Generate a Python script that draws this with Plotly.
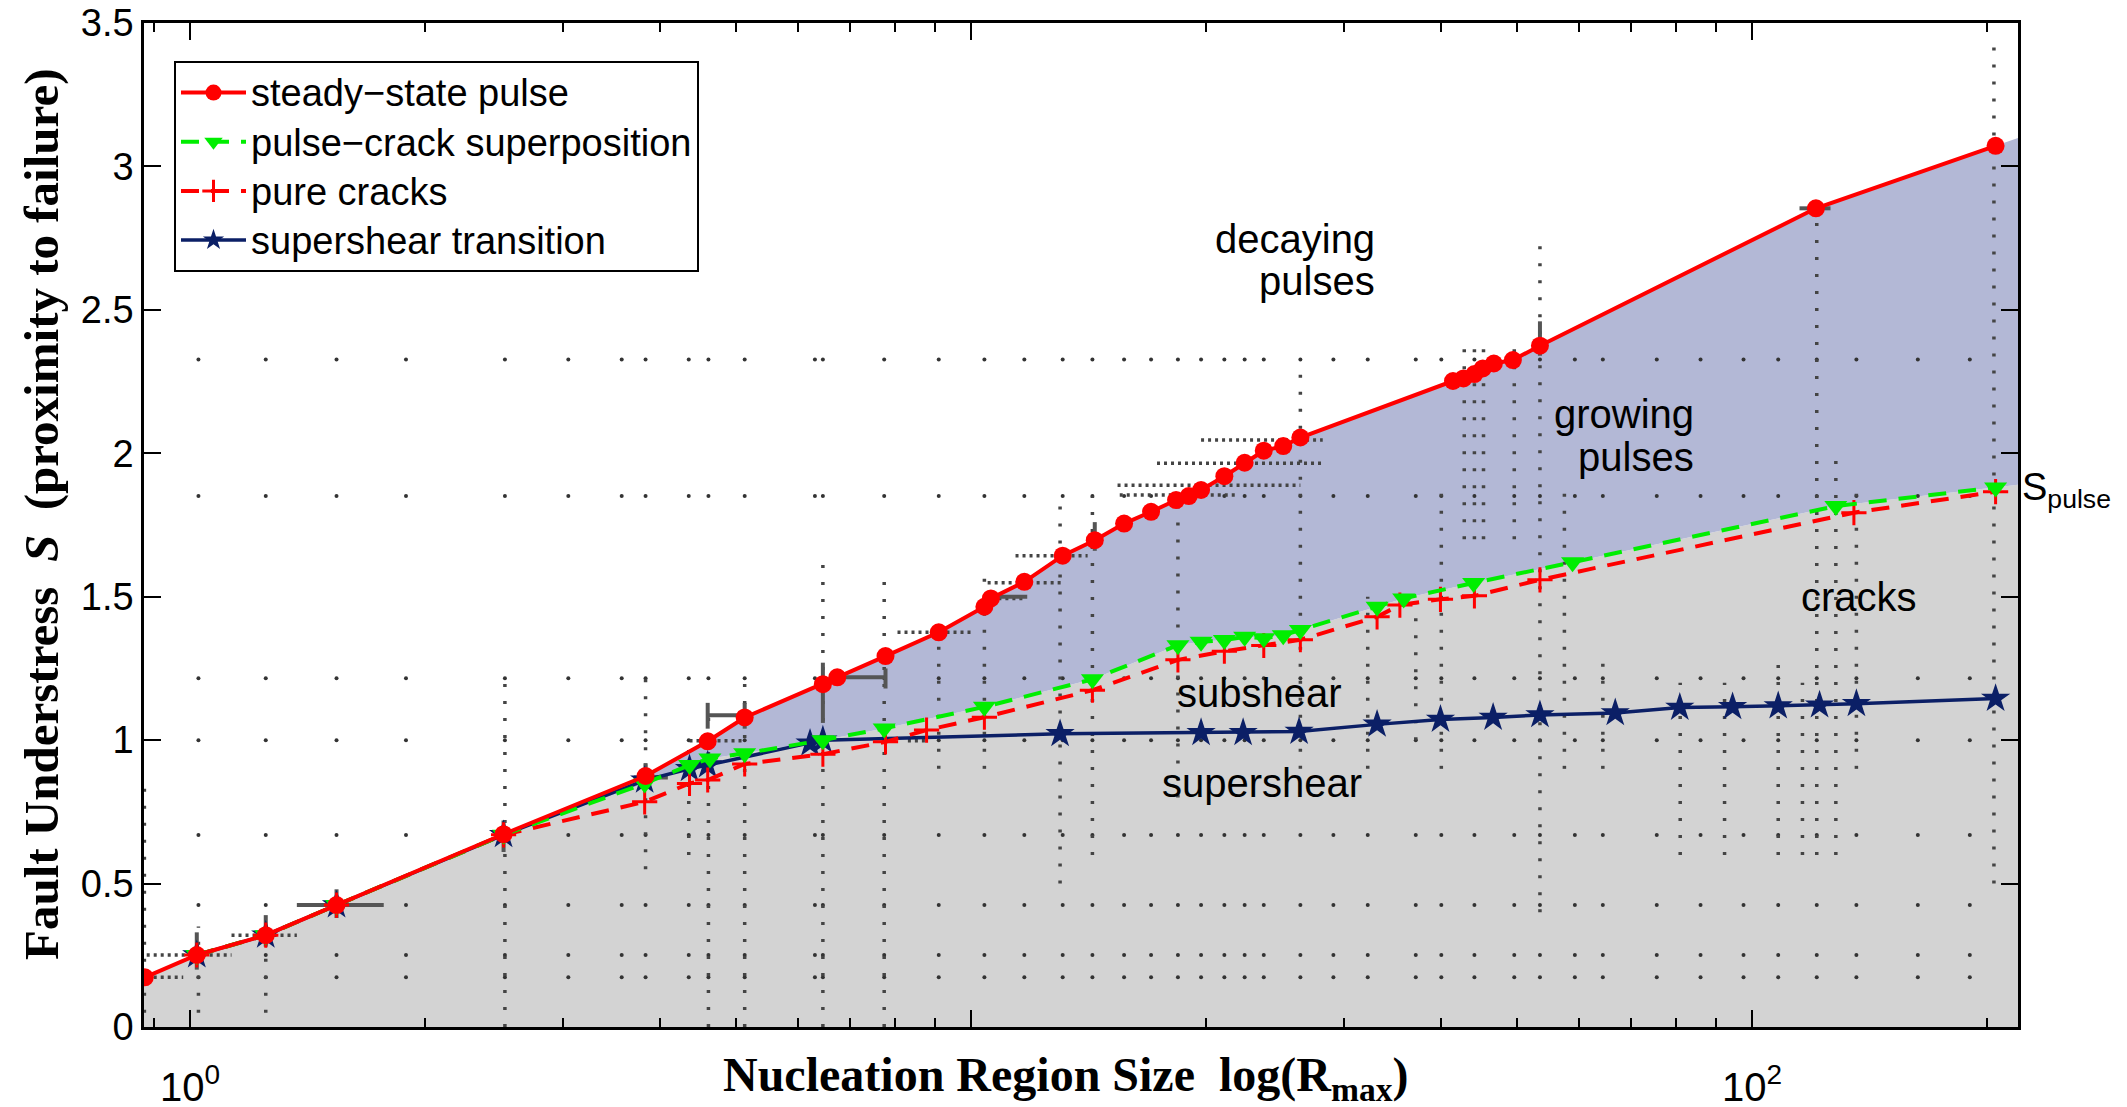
import numpy as np
import plotly.graph_objects as go

# ---- rupture-mode boundaries (R_max, S) ----
pulse_r = [0.875, 1.02, 1.25, 1.54, 2.52, 3.83, 4.60, 5.13, 6.46, 6.74, 7.77, 9.09, 10.4, 10.6,
           11.7, 13.1, 14.4, 15.7, 17.0, 18.3, 19.0, 19.7, 21.1, 22.4, 23.7, 25.1, 26.4,
           41.4, 42.7, 44.1, 45.2, 46.7, 49.4, 53.5, 120.7, 205]
pulse_s = [0.173, 0.251, 0.320, 0.425, 0.672, 0.875, 0.996, 1.079, 1.195, 1.219, 1.293, 1.376,
           1.465, 1.494, 1.552, 1.643, 1.697, 1.755, 1.796, 1.837, 1.851, 1.872, 1.920, 1.967,
           2.009, 2.025, 2.055, 2.252, 2.261, 2.276, 2.296, 2.313, 2.325, 2.375, 2.854, 3.072]

superpos_r = [1.02, 1.25, 1.54, 2.52, 3.82, 4.36, 4.63, 5.13, 6.46, 7.74, 10.4, 14.3, 18.4,
              19.7, 21.1, 22.4, 23.7, 25.1, 26.4, 33.1, 35.8, 44.0, 58.9, 128, 205]
superpos_s = [0.251, 0.320, 0.425, 0.670, 0.849, 0.913, 0.936, 0.954, 1.000, 1.041, 1.116,
              1.212, 1.331, 1.343, 1.349, 1.360, 1.355, 1.366, 1.384, 1.465, 1.494, 1.548,
              1.620, 1.816, 1.881]

crack_r = [1.02, 1.25, 1.54, 2.52, 3.82, 4.36, 4.60, 5.13, 6.46, 7.77, 8.77, 10.4, 14.3, 18.4,
           21.1, 23.7, 26.4, 33.1, 35.4, 39.9, 44.1, 53.5, 135, 205]
crack_s = [0.251, 0.320, 0.425, 0.670, 0.785, 0.849, 0.861, 0.917, 0.951, 0.994, 1.035, 1.080,
           1.174, 1.280, 1.310, 1.330, 1.350, 1.430, 1.471, 1.491, 1.503, 1.559, 1.793, 1.866]

supershear_r = [1.02, 1.25, 1.54, 2.52, 3.82, 4.36, 4.60, 6.22, 6.46, 13.0, 19.7, 22.3, 26.3,
                33.1, 39.9, 46.6, 53.5, 66.8, 80.8, 94.4, 108, 122, 136, 205]
supershear_s = [0.251, 0.320, 0.425, 0.670, 0.860, 0.900, 0.913, 0.989, 1.000, 1.022, 1.026,
                1.026, 1.030, 1.055, 1.072, 1.079, 1.088, 1.095, 1.114, 1.116, 1.119, 1.122,
                1.127, 1.145]

# ---- simulation grid (background dots) ----
grid_r = [1.025, 1.25, 1.54, 1.89, 2.53, 3.05, 3.57, 3.83, 4.35, 4.61, 5.13, 6.31, 6.46, 7.74,
          9.09, 10.4, 11.7, 13.1, 14.3, 15.7, 17.0, 18.4, 19.7, 21.1, 22.4, 23.7, 26.4, 29.1,
          32.2, 37.1, 40.0, 44.1, 49.6, 53.5, 59.3, 64.4, 75.5, 85.9, 97.5, 108, 121, 136, 163, 190]
grid_s = [0.173, 0.251, 0.425, 0.669, 1.000, 1.216, 1.851, 2.327]

# vertical runs of densely sampled S: (R, S_low, S_high)
dense_r = [0.874, 1.025, 1.25, 2.53, 3.83, 4.35, 4.61, 5.13, 6.46, 7.74, 9.09, 10.4, 13.0,
           14.3, 18.4, 26.4, 32.2, 37.1, 40.0, 42.8, 44.1, 45.3, 49.6, 53.5, 57.5, 64.4, 80.9,
           92.2, 108, 116, 121, 128, 136, 204]
dense_lo = [0.05, 0.05, 0.05, 0.0, 0.55, 0.6, 0.0, 0.0, 0.0, 0.0, 0.9, 0.9, 0.5, 0.6, 0.8,
            0.9, 0.9, 1.0, 0.9, 1.7, 1.7, 1.7, 1.7, 0.4, 0.9, 0.9, 0.6, 0.6, 0.6, 0.6, 0.6,
            0.6, 0.9, 0.5]
dense_hi = [0.85, 0.35, 0.35, 1.22, 1.22, 1.0, 1.1, 1.22, 1.65, 1.6, 1.4, 1.6, 1.85, 1.85,
            1.85, 2.3, 1.5, 1.5, 1.9, 2.4, 2.4, 2.4, 2.4, 2.75, 1.9, 1.3, 1.2, 1.2, 1.3, 1.2,
            2.85, 2.0, 1.9, 3.45]

# horizontal runs of densely sampled R: (S, R_low, R_high)
hrun_s = [0.173, 0.251, 0.320, 0.998, 0.998, 1.376, 1.494, 1.549, 1.643, 1.855, 1.889, 1.965,
          2.046]
hrun_lo = [0.88, 0.88, 1.13, 4.36, 8.30, 8.05, 10.4, 10.5, 11.4, 15.5, 15.4, 17.3, 19.7]
hrun_hi = [0.98, 1.13, 1.37, 5.14, 8.80, 10.07, 11.7, 13.1, 14.1, 22.0, 26.4, 28.2, 28.2]

# spread of the measured pulse threshold: horizontal (S, R_low, R_high), vertical (R, S_low, S_high)
errh_s = [0.425, 0.870, 1.087, 1.219, 1.500, 2.854]
errh_lo = [1.37, 3.70, 4.60, 6.74, 10.5, 115]
errh_hi = [1.77, 4.09, 5.13, 7.77, 11.8, 126]
errv_r = [1.02, 1.25, 1.54, 2.52, 3.83, 4.60, 5.13, 6.46, 7.77, 14.4, 53.5]
errv_lo = [0.20, 0.28, 0.38, 0.61, 0.83, 1.04, 1.04, 1.06, 1.18, 1.66, 2.34]
errv_hi = [0.33, 0.39, 0.48, 0.72, 0.92, 1.13, 1.13, 1.27, 1.25, 1.76, 2.46]

R_MIN, R_MAX = 0.873, 219.0

# plot-area frame in pixels, used to place text
L, R, T, B = 144, 2018, 23, 1027
def px(x):
    return (x - L) / (R - L)
def py(y):
    return (B - y) / (B - T)


def extend_log(xs, ys, lo, hi):
    """Extend a boundary linearly in log10(R) out to the axis limits."""
    lx = np.log10(xs)
    ys = np.asarray(ys, float)
    y_lo = ys[0] + (ys[1] - ys[0]) / (lx[1] - lx[0]) * (np.log10(lo) - lx[0])
    y_hi = ys[-1] + (ys[-1] - ys[-2]) / (lx[-1] - lx[-2]) * (np.log10(hi) - lx[-1])
    return [lo] + list(xs) + [hi], [y_lo] + list(ys) + [y_hi]


def segments(fixed, lo, hi, vertical):
    xs, ys = [], []
    for f, a, b in zip(fixed, lo, hi):
        if vertical:
            xs += [f, f, None]
            ys += [a, b, None]
        else:
            xs += [a, b, None]
            ys += [f, f, None]
    return xs, ys


fig = go.Figure()

# S_pulse region (cracks below) - grey
bx, by = extend_log([pulse_r[0]] + superpos_r, [pulse_s[0]] + superpos_s, R_MIN, R_MAX)
fig.add_trace(go.Scatter(x=bx, y=by, mode="lines", line=dict(width=0, color="#d3d3d3"),
                         fill="tozeroy", fillcolor="#d3d3d3", showlegend=False, hoverinfo="skip"))
# growing-pulse region - lavender
tx, ty = extend_log(pulse_r, pulse_s, R_MIN, R_MAX)
fig.add_trace(go.Scatter(x=tx, y=ty, mode="lines", line=dict(width=0, color="#b3b8d6"),
                         fill="tonexty", fillcolor="#b3b8d6", showlegend=False, hoverinfo="skip"))

# background simulation points
gx = [r for r in grid_r for s in grid_s]
gy = [s for r in grid_r for s in grid_s]
fig.add_trace(go.Scatter(x=gx, y=gy, mode="markers", marker=dict(size=4, color="#333333"),
                         showlegend=False, hoverinfo="skip"))
vx, vy = segments(dense_r, dense_lo, dense_hi, True)
fig.add_trace(go.Scatter(x=vx, y=vy, mode="lines",
                         line=dict(width=3.5, color="#444444", dash="3px,14px"),
                         showlegend=False, hoverinfo="skip"))
hx, hy = segments(hrun_s, hrun_lo, hrun_hi, False)
fig.add_trace(go.Scatter(x=hx, y=hy, mode="lines",
                         line=dict(width=3.5, color="#444444", dash="3px,4px"),
                         showlegend=False, hoverinfo="skip"))

# threshold spread bars
ex, ey = segments(errh_s, errh_lo, errh_hi, False)
fx, fy = segments(errv_r, errv_lo, errv_hi, True)
fig.add_trace(go.Scatter(x=ex + fx, y=ey + fy, mode="lines",
                         line=dict(width=4, color="#555555"),
                         showlegend=False, hoverinfo="skip"))

# boundary curves
fig.add_trace(go.Scatter(x=supershear_r, y=supershear_s, mode="lines+markers",
                         name="supershear transition", legendrank=4,
                         line=dict(color="#0b1f66", width=3.5, dash="solid"),
                         marker=dict(symbol="star", size=22, color="#0b1f66")))
fig.add_trace(go.Scatter(x=crack_r, y=crack_s, mode="lines+markers", name="pure cracks",
                         legendrank=3,
                         line=dict(color="#ff0000", width=4, dash="18px,12px"),
                         marker=dict(symbol="cross-thin", size=18,
                                     line=dict(color="#ff0000", width=3))))
fig.add_trace(go.Scatter(x=superpos_r, y=superpos_s, mode="lines+markers",
                         name="pulse\u2212crack superposition", legendrank=2,
                         line=dict(color="#00ee00", width=4, dash="18px,12px"),
                         marker=dict(symbol="triangle-down", size=20, color="#00ee00")))
fig.add_trace(go.Scatter(x=pulse_r, y=pulse_s, mode="lines+markers",
                         name="steady\u2212state pulse", legendrank=1,
                         line=dict(color="#ff0000", width=4),
                         marker=dict(symbol="circle", size=18, color="#ff0000")))

# legend entries drawn a touch larger than the row pitch
for tr in fig.data:
    if tr.showlegend is not False and tr.name:
        tr.name = '<span style="font-size:38px">' + tr.name + "</span>"

sans = "Liberation Sans, Arial, sans-serif"
serif = "Liberation Serif, Times New Roman, serif"

minor_vals = [0.9] + [k for k in range(2, 10)] + [10 * k for k in range(2, 10)] + [200]

fig.update_xaxes(type="log", range=[np.log10(R_MIN), np.log10(R_MAX)], automargin=False,
                 tickvals=[1, 10, 100], ticktext=["10<sup>0</sup>", "", "10<sup>2</sup>"],
                 ticks="inside", ticklen=17, tickwidth=2, tickcolor="black",
                 minor=dict(tickvals=minor_vals, ticks="inside", ticklen=9, tickwidth=2,
                            tickcolor="black"),
                 showline=True, linecolor="black", linewidth=2.5, mirror="ticks",
                 showgrid=False, zeroline=False, ticklabelstandoff=23,
                 tickfont=dict(family=sans, size=40, color="black"))
fig.update_yaxes(range=[0, 3.5], tickvals=[0, 0.5, 1, 1.5, 2, 2.5, 3, 3.5], automargin=False,
                 ticktext=["0", "0.5", "1", "1.5", "2", "2.5", "3", "3.5"],
                 ticks="inside", ticklen=17, tickwidth=2, tickcolor="black",
                 showline=True, linecolor="black", linewidth=2.5, mirror="ticks",
                 showgrid=False, zeroline=False,
                 tickfont=dict(family=sans, size=38, color="black"))

ann = []
def label(text, x, y, xa="center", ya="middle", size=40, fam=sans, angle=0):
    ann.append(dict(text=text, x=px(x), y=py(y), xref="paper", yref="paper",
                    xanchor=xa, yanchor=ya, showarrow=False, textangle=angle,
                    font=dict(family=fam, size=size, color="black")))

label("decaying", 1377, 239, xa="right")
label("pulses", 1377, 281, xa="right")
label("growing", 1696, 414, xa="right")
label("pulses", 1696, 457, xa="right")
label("subshear", 1259, 693)
label("supershear", 1262, 783)
label("cracks", 1859, 597)
label("S<sub>pulse</sub>", 2020, 490, xa="left", size=38)
label("<b>Nucleation Region Size\u00a0 log(R<sub>max</sub>)</b>", 1066, 1078, size=48, fam=serif)
label("<b>Fault Understress\u00a0 <i>S</i>\u00a0 (proximity to failure)</b>", 41, 514,
      size=49, fam=serif, angle=-90)

fig.update_layout(
    width=2127, height=1107,
    margin=dict(l=L, r=2127 - R, t=T, b=1107 - B, autoexpand=False),
    plot_bgcolor="white", paper_bgcolor="white",
    annotations=ann,
    legend=dict(x=px(174), y=py(61), xanchor="left", yanchor="top",
                traceorder="normal",
                bgcolor="white", bordercolor="black", borderwidth=2,
                font=dict(family=sans, size=35.5, color="black"),
                itemwidth=65, tracegroupgap=0),
)

fig.write_html("out.html")
